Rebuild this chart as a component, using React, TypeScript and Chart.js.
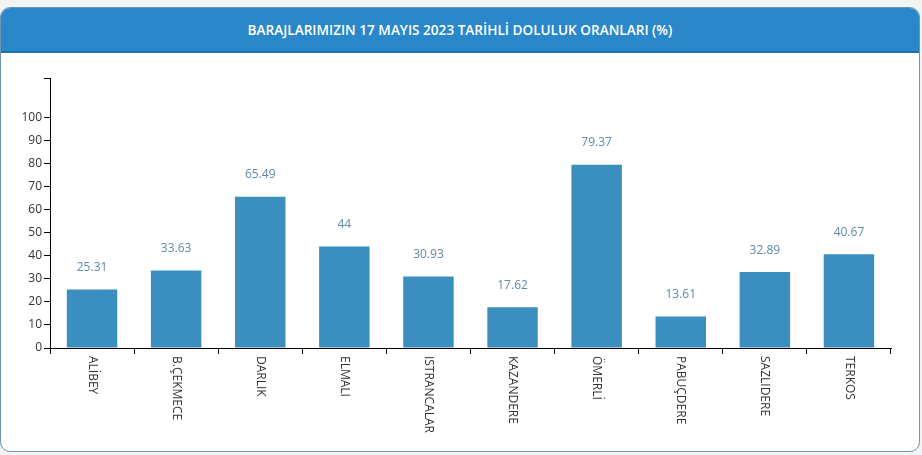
import React, { useEffect, useRef } from "react";
import { Chart, registerables } from "chart.js";

Chart.register(...registerables);

const TITLE = "BARAJLARIMIZIN 17 MAYIS 2023 TARİHLİ DOLULUK ORANLARI (%)";
const categories = ["ALİBEY", "B.ÇEKMECE", "DARLIK", "ELMALI", "ISTRANCALAR", "KAZANDERE", "ÖMERLİ", "PABUÇDERE", "SAZLIDERE", "TERKOS"];
const values = [25.31, 33.63, 65.49, 44, 30.93, 17.62, 79.37, 13.61, 32.89, 40.67];
const yTicks = [0, 10, 20, 30, 40, 50, 60, 70, 80, 90, 100];
const yMax = 117;

const FONT = "'Open Sans', 'Noto Sans', sans-serif";

const labelPlugin = {
  id: "customLabels",
  afterDraw(chart: any) {
    const ctx = chart.ctx;
    const xs = chart.scales.x;
    const meta = chart.getDatasetMeta(0);
    ctx.save();
    // x category labels, rotated clockwise
    ctx.font = `12px ${FONT}`;
    ctx.fillStyle = "#333333";
    ctx.textAlign = "left";
    ctx.textBaseline = "middle";
    categories.forEach((c, i) => {
      const x = xs.getPixelForValue(i);
      ctx.save();
      ctx.translate(x, xs.top + 8);
      ctx.rotate(Math.PI / 2);
      ctx.fillText(c, 0, 0);
      ctx.restore();
    });
    // value labels
    ctx.fillStyle = "#5e89a9";
    ctx.textAlign = "center";
    meta.data.forEach((bar: any, i: number) => {
      ctx.fillText(String(values[i]), bar.x, bar.y - 22);
    });
    ctx.restore();
  },
};

export default function App() {
  const ref = useRef<HTMLCanvasElement>(null);
  useEffect(() => {
    document.body.style.margin = "0";
    document.body.style.background = "#f3f3f3";
    const chart = new Chart(ref.current!, {
      type: "bar",
      data: {
        labels: categories,
        datasets: [
          {
            data: values,
            backgroundColor: "#3a8ec0",
            barPercentage: 0.6,
            categoryPercentage: 1,
          },
        ],
      },
      options: {
        animation: false,
        responsive: false,
        devicePixelRatio: 1,
        layout: { padding: { top: 26, right: 29, left: 0, bottom: 0 } },
        plugins: { legend: { display: false }, tooltip: { enabled: false } },
        scales: {
          x: {
            grid: { drawOnChartArea: false, drawTicks: true, tickLength: 6, color: "#000", offset: true },
            border: { color: "#000", width: 1 },
            ticks: { display: false },
            afterFit: (s: any) => { s.height = 104; },
          },
          y: {
            min: 0,
            max: yMax,
            grid: { drawOnChartArea: false, drawTicks: true, tickLength: 6, color: "#000" },
            border: { color: "#000", width: 1 },
            ticks: {
              color: "#333333",
              font: { family: FONT, size: 12 },
              padding: 2,
              callback: (v: any) => (v === yMax ? "" : String(v)),
            },
            afterBuildTicks: (s: any) => {
              s.ticks = [...yTicks, yMax].map((v) => ({ value: v }));
            },
            afterFit: (s: any) => { s.width = 50; },
          },
        },
      },
      plugins: [labelPlugin],
    });
    return () => chart.destroy();
  }, []);

  return (
    <div style={{ position: "relative", width: 922, height: 455, background: "#f3f3f3", overflow: "hidden" }}>
      <div
        style={{
          position: "absolute",
          left: 0,
          top: 7,
          width: 918,
          height: 443,
          background: "#ffffff",
          border: "1px solid #6d96b4",
          borderRadius: 10,
          overflow: "hidden",
        }}
      >
        <div
          style={{
            height: 43,
            background: "#2a87c9",
            borderBottom: "2px solid #1f72ad",
            color: "#ffffff",
            fontFamily: FONT,
            fontWeight: 600,
            fontSize: 13.6,
            display: "flex",
            alignItems: "center",
            justifyContent: "center",
          }}
        >
          {TITLE}
        </div>
      </div>
      <canvas ref={ref} width={920} height={400} style={{ position: "absolute", left: 0, top: 52, width: 920, height: 400 }} />
    </div>
  );
}
